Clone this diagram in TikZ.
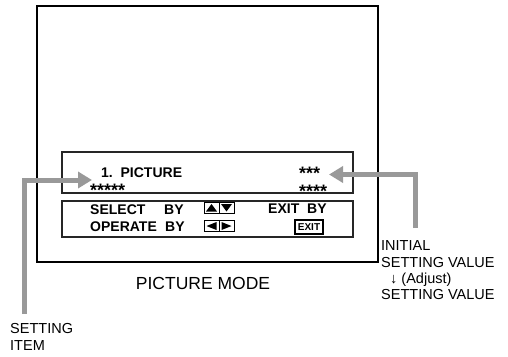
\documentclass[tikz,border=0pt]{standalone}
\usepackage{fontspec}
\setmainfont{Liberation Sans}
\usetikzlibrary{arrows.meta,positioning}
\definecolor{gArrow}{gray}{0.6}
\tikzset{
  screen/.style={draw=black, line width=1.8pt},
  panel/.style={draw=black!85, line width=1.1pt},
  btn/.style={draw=black, line width=1pt},
  osd/.style={inner sep=0pt, anchor=base west, font=\fontsize{14}{15}\selectfont\bfseries},
  stars/.style={inner sep=0pt, anchor=base west, text height=12pt, text depth=0pt, font=\fontsize{18}{18}\selectfont\bfseries},
  note/.style={inner sep=0pt, anchor=base west, font=\fontsize{14.5}{16}\selectfont},
  pointer/.style={-{Triangle[length=14pt,width=16pt]}, line width=5pt, draw=gArrow}
}

\begin{document}
\begin{tikzpicture}[x=1pt, y=-1pt]
  \useasboundingbox (0,0) rectangle (508,356);
  % screen and the two menu panels
  \draw[screen] (37,6) rectangle (378,262);
  \draw[panel] (62,152) rectangle (353,193);
  \draw[panel] (62,201) rectangle (353,237);
  % menu texts
  \node[osd] (item) at (101,177) {1.\ \ PICTURE};
  \node[stars] (itemstars) at (90,196) {*****};
  \node[stars] (value) at (299,179) {***};
  \node[stars] (valuestars) at (299,197) {****};
  \node[osd] (select) at (90,214) {SELECT};
  \node[osd] (selectby) at (164,214) {BY};
  \node[osd] (operate) at (90,231) {OPERATE};
  \node[osd] (operateby) at (165,231) {BY};
  \node[osd] (exit) at (268,213) {EXIT};
  \node[osd] (exitby) at (307,213) {BY};
  \node[btn, line width=1.6pt, minimum width=28pt, minimum height=14pt, inner sep=0pt,
        font=\fontsize{10}{10}\selectfont\bfseries] (exitkey) at (309,227) {EXIT};
  % cursor keys
  \draw[btn] (204,202.5) rectangle (219,213);
  \draw[btn] (219,202.5) rectangle (234,213);
  \fill (206,211.5) -- (217,211.5) -- (211.5,204) -- cycle;
  \fill (221,204) -- (232,204) -- (226.5,211.5) -- cycle;
  \draw[btn] (204,220.5) rectangle (219,231.5);
  \draw[btn] (219,220.5) rectangle (234,231.5);
  \fill (216.5,222) -- (216.5,230) -- (206.5,226) -- cycle;
  \fill (221.5,222) -- (221.5,230) -- (231.5,226) -- cycle;
  % caption and notes
  \node[anchor=base, inner sep=0pt, font=\fontsize{17.5}{18}\selectfont] (mode) at (203,289) {PICTURE MODE};
  \node[note] (initial) at (381,250) {INITIAL};
  \node[note] (initval) at (381,267) {SETTING VALUE};
  \node[note] (adjust) at (390,283) {↓\ (Adjust)};
  \node[note] (setval) at (381,299) {SETTING VALUE};
  \node[note] (setting) at (10,333) {SETTING};
  \node[note] (itemnote) at (10,350) {ITEM};
  % grey pointers
  \coordinate (itemfoot) at (24.5,314);
  \coordinate (itemtip) at (92,180);
  \coordinate (valuefoot) at (415.5,228);
  \coordinate (valuetip) at (329,174.5);
  \draw[pointer] (itemfoot) |- (itemtip);
  \draw[pointer] (valuefoot) |- (valuetip);
\end{tikzpicture}
\end{document}
